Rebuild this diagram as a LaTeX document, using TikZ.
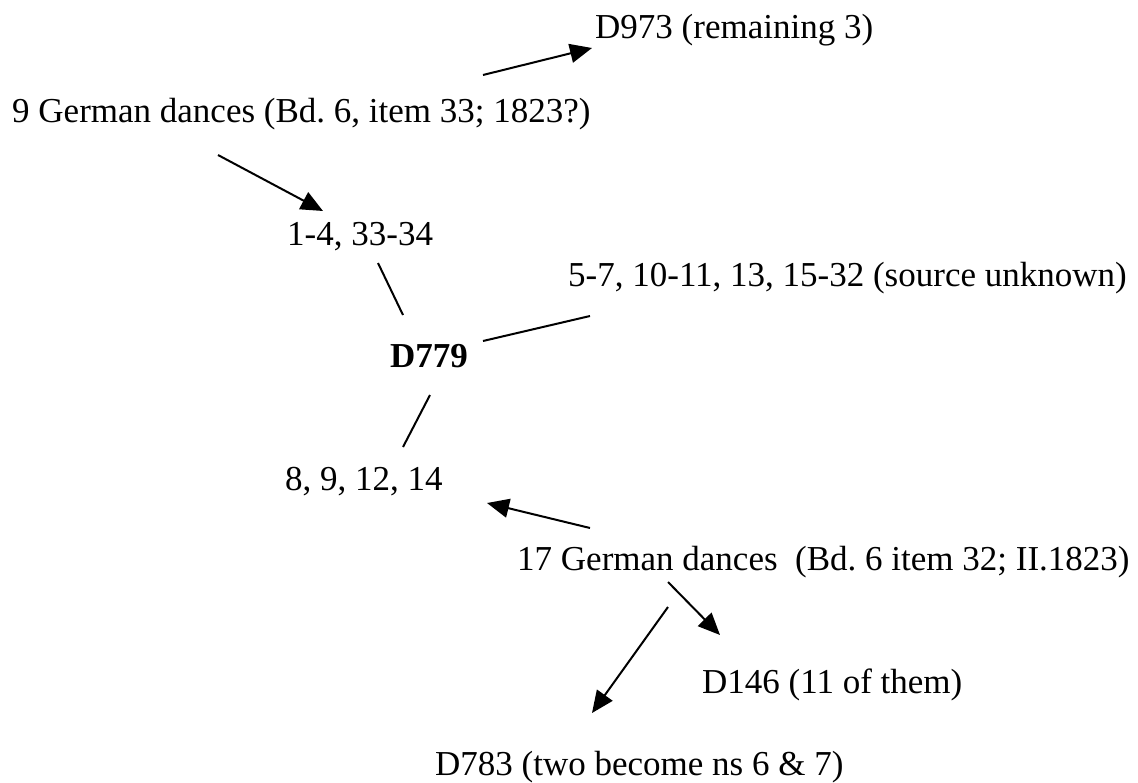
\documentclass[tikz,border=0pt]{standalone}
\usepackage{fontspec}
\setmainfont{Liberation Serif}
\usetikzlibrary{arrows.meta}
\frenchspacing
\begin{document}
\begin{tikzpicture}[x=1pt,y=-1pt,
  lbl/.style={inner sep=0pt,anchor=base west,font=\fontsize{35}{40}\selectfont},
  conn/.style={line width=2pt,black},
  arr/.style={conn,-{Triangle[length=22pt,width=19pt]}}]
\useasboundingbox[fill=white] (0,0) rectangle (1138,782);
\node[lbl] (d973) at (595,38) {D973 (remaining 3)};
\node[lbl] (g9) at (12,122) {9 German dances (Bd. 6, item 33; 1823?)};
\node[lbl] (n14) at (287,245) {1-4, 33-34};
\node[lbl] (n57) at (568,286) {5-7, 10-11, 13, 15-32 (source unknown)};
\node[lbl,font=\fontsize{35}{40}\selectfont\bfseries] (d779) at (390,367) {D779};
\node[lbl] (n89) at (285,490) {8, 9, 12, 14};
\node[lbl] (g17) at (517,570) {17 German dances\ \ (Bd. 6 item 32; II.1823)};
\node[lbl] (d146) at (702,693) {D146 (11 of them)};
\node[lbl] (d783) at (435,775) {D783 (two become ns 6 \& 7)};
% connector ends
\coordinate (a1s) at (483,75);  \coordinate (a1e) at (592,48);
\coordinate (a2s) at (218,155); \coordinate (a2e) at (323,211);
\coordinate (l1s) at (378,263); \coordinate (l1e) at (403,315);
\coordinate (l2s) at (483,341); \coordinate (l2e) at (590,316);
\coordinate (l3s) at (430,395); \coordinate (l3e) at (403,447);
\coordinate (a3s) at (590,528); \coordinate (a3e) at (487,503);
\coordinate (a4s) at (668,582); \coordinate (a4e) at (720,635);
\coordinate (a5s) at (668,607); \coordinate (a5e) at (592,713);
\draw[arr] (a1s) -- (a1e);
\draw[arr] (a2s) -- (a2e);
\draw[conn] (l1s) -- (l1e);
\draw[conn] (l2s) -- (l2e);
\draw[conn] (l3s) -- (l3e);
\draw[arr] (a3s) -- (a3e);
\draw[arr] (a4s) -- (a4e);
\draw[arr] (a5s) -- (a5e);
\end{tikzpicture}
\end{document}
